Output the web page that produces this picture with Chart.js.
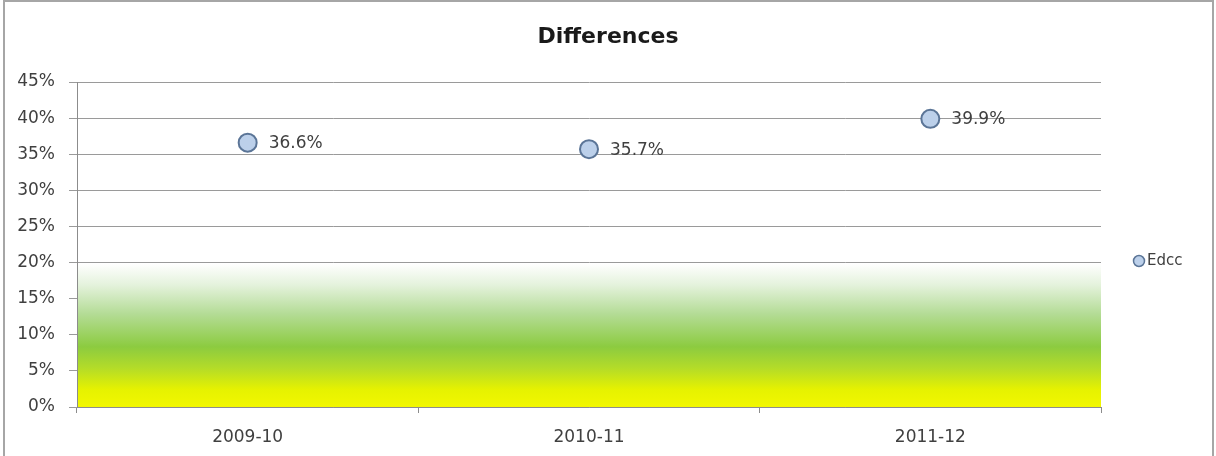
<!DOCTYPE html>
<html>
<head>
<meta charset="utf-8">
<script src="https://cdn.jsdelivr.net/npm/chart.js@4.4.1/dist/chart.umd.min.js"></script>
<style>
html,body{margin:0;padding:0;background:#fff;}
#wrap{position:relative;width:1216px;height:456px;}
</style>
</head>
<body>
<div id="wrap"><canvas id="c" width="1216" height="456"></canvas></div>
<script>
const categories = ['2009-10', '2010-11', '2011-12'];
const edccValues = [36.6, 35.7, 39.9];
const seriesName = 'Edcc';
const chartTitle = 'Differences';
const bandRange = [0, 20];
const yMin = 0, yMax = 45, yStep = 5;

const FONT = '"DejaVu Sans", "Open Sans", sans-serif';
const POINT_FILL = '#bcd0ea';
const POINT_EDGE = '#5b7597';

const bandPlugin = {
  id: 'band',
  beforeDatasetsDraw(chart) {
    const {ctx, chartArea, scales} = chart;
    const y0 = scales.y.getPixelForValue(bandRange[0]);
    const y1 = scales.y.getPixelForValue(bandRange[1]) + 1;
    const g = ctx.createLinearGradient(0, y0, 0, y1);
    g.addColorStop(0.0, '#f2f700');
    g.addColorStop(0.12, '#e6f200');
    g.addColorStop(0.27, '#b4dc28');
    g.addColorStop(0.42, '#8ccb40');
    g.addColorStop(0.65, '#b4dc96');
    g.addColorStop(0.85, '#e4f2dc');
    g.addColorStop(1.0, 'rgba(255,255,255,1)');
    ctx.save();
    ctx.fillStyle = g;
    ctx.fillRect(chartArea.left + 1, y1, chartArea.right - chartArea.left - 1, y0 - y1);
    ctx.restore();
  }
};

const labelPlugin = {
  id: 'pointLabels',
  afterDatasetsDraw(chart) {
    const {ctx} = chart;
    const meta = chart.getDatasetMeta(0);
    ctx.save();
    ctx.font = '17px ' + FONT;
    ctx.fillStyle = '#404040';
    ctx.textAlign = 'left';
    ctx.textBaseline = 'middle';
    meta.data.forEach((pt, i) => {
      ctx.fillText(edccValues[i].toFixed(1) + '%', pt.x + 21, pt.y + 1);
    });
    ctx.restore();
  }
};

// Legend drawn beside the plot, vertically placed like the original
const legendPlugin = {
  id: 'sideLegend',
  afterDraw(chart) {
    const {ctx, chartArea} = chart;
    const ds = chart.data.datasets[0];
    const cx = chartArea.right + 38;
    const cy = 261;
    ctx.save();
    ctx.beginPath();
    ctx.arc(cx, cy, 5.5, 0, Math.PI * 2);
    ctx.fillStyle = POINT_FILL;
    ctx.fill();
    ctx.lineWidth = 1.5;
    ctx.strokeStyle = POINT_EDGE;
    ctx.stroke();
    ctx.font = '15px ' + FONT;
    ctx.fillStyle = '#404040';
    ctx.textAlign = 'left';
    ctx.textBaseline = 'middle';
    ctx.fillText(ds.label, cx + 8, cy);
    ctx.restore();
  }
};

const framePlugin = {
  id: 'frame',
  afterDraw(chart) {
    const {ctx} = chart;
    ctx.save();
    ctx.strokeStyle = '#a6a6a6';
    ctx.lineWidth = 2;
    ctx.beginPath();
    ctx.moveTo(4, 470); ctx.lineTo(4, 1); ctx.lineTo(1213, 1); ctx.lineTo(1213, 470);
    ctx.stroke();
    ctx.restore();
  }
};

new Chart(document.getElementById('c'), {
  type: 'line',
  data: {
    labels: categories,
    datasets: [{
      label: seriesName,
      data: edccValues,
      showLine: false,
      pointRadius: 9,
      pointHoverRadius: 9,
      pointBorderWidth: 2,
      pointBackgroundColor: POINT_FILL,
      pointBorderColor: POINT_EDGE,
      backgroundColor: POINT_FILL,
      borderColor: POINT_EDGE
    }]
  },
  options: {
    responsive: false,
    animation: false,
    events: [],
    layout: { padding: 0 },
    plugins: {
      title: {
        display: true,
        text: chartTitle,
        color: '#1a1a1a',
        font: { size: 22, weight: 'bold', family: FONT },
        padding: { top: 24, bottom: 31.6 }
      },
      legend: { display: false },
      tooltip: { enabled: false }
    },
    scales: {
      x: {
        type: 'category',
        offset: true,
        grid: { offset: true, drawOnChartArea: false, drawTicks: true, tickLength: 6, color: '#8c8c8c' },
        border: { display: true, color: '#8c8c8c', width: 1 },
        ticks: { color: '#404040', padding: 14, font: { size: 17, family: FONT } },
        afterFit(s) { s.height = 49; }
      },
      y: {
        min: yMin,
        max: yMax,
        ticks: {
          stepSize: yStep,
          color: '#404040',
          padding: 14,
          font: { size: 17, family: FONT },
          callback: v => v + '%'
        },
        grid: { color: '#9a9a9a', lineWidth: 1, tickLength: 8, drawTicks: true },
        border: { display: true, color: '#8c8c8c', width: 1 },
        afterFit(s) { s.width = 77; }
      },
      legendSpace: {
        position: 'right',
        min: yMin,
        max: yMax,
        display: true,
        grid: { display: false, drawOnChartArea: false, drawTicks: false },
        border: { display: false },
        ticks: { display: false },
        afterFit(s) { s.width = 115; }
      }
    }
  },
  plugins: [bandPlugin, labelPlugin, legendPlugin, framePlugin]
});
</script>
</body>
</html>
